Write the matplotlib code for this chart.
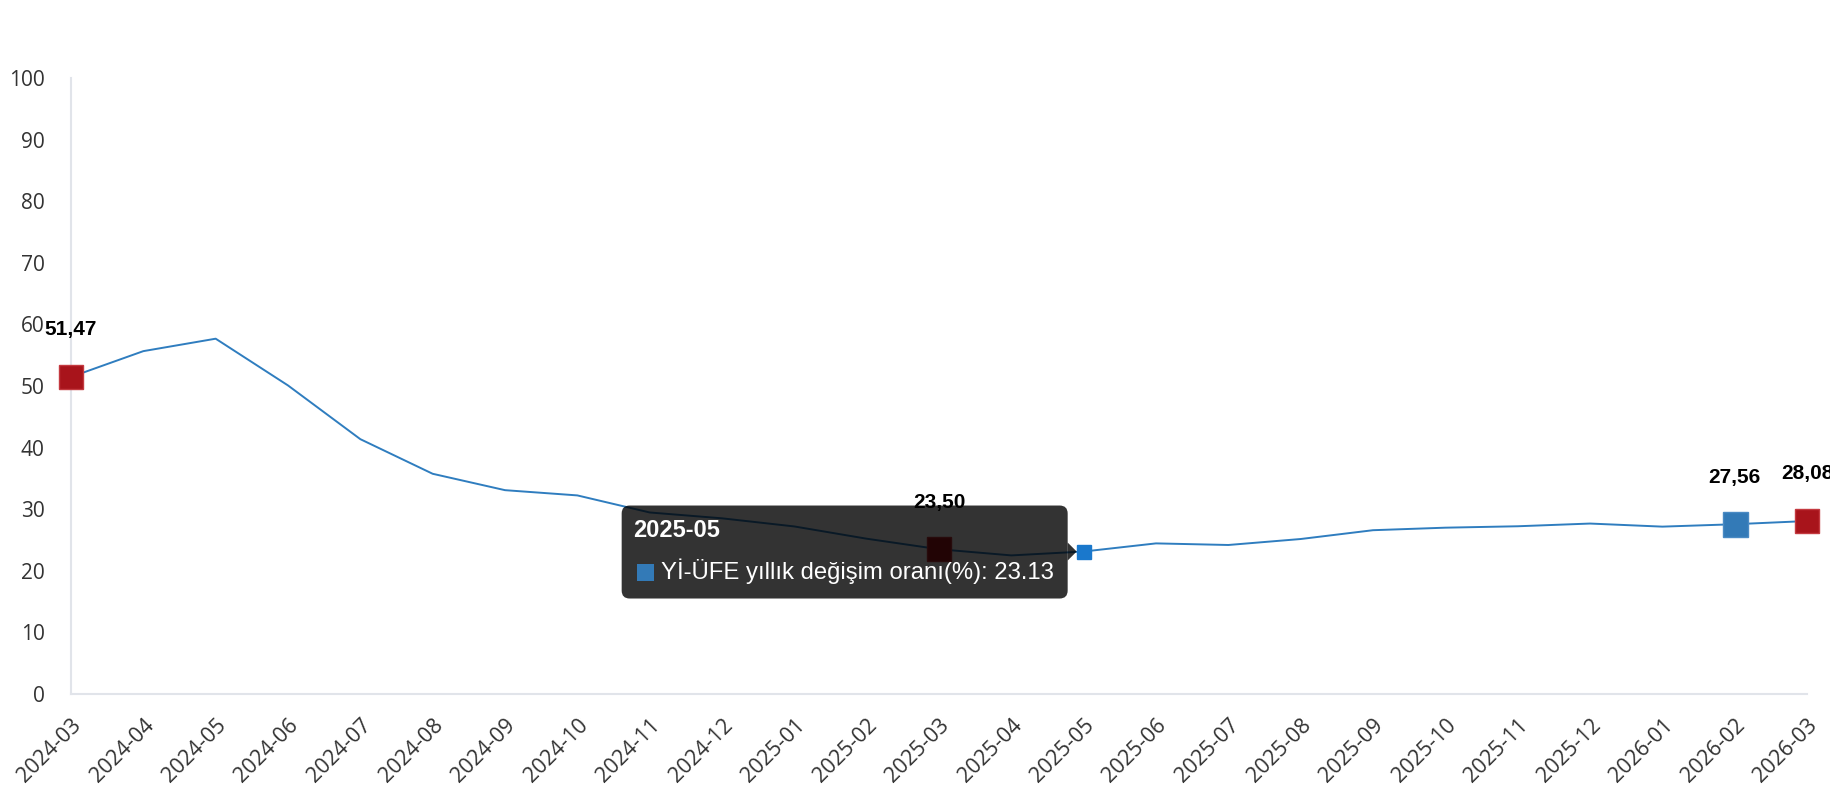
import matplotlib
matplotlib.use('Agg')
import matplotlib.pyplot as plt
import matplotlib.transforms as mtransforms
from matplotlib.patches import FancyBboxPatch, Polygon, Rectangle

# monthly Yİ-ÜFE annual change (%)
months = ['2024-03', '2024-04', '2024-05', '2024-06', '2024-07', '2024-08', '2024-09',
          '2024-10', '2024-11', '2024-12', '2025-01', '2025-02', '2025-03', '2025-04',
          '2025-05', '2025-06', '2025-07', '2025-08', '2025-09', '2025-10', '2025-11',
          '2025-12', '2026-01', '2026-02', '2026-03']
values = [51.47, 55.66, 57.68, 50.09, 41.37, 35.75, 33.09, 32.24, 29.47, 28.52, 27.20,
          25.21, 23.50, 22.50, 23.13, 24.45, 24.19, 25.16, 26.59, 27.00, 27.23, 27.67,
          27.17, 27.56, 28.08]
series_name = 'Yİ-ÜFE yıllık değişim oranı(%)'
red_idx = [0, 12, 24]     # highlighted red points
blue_idx = [23]           # highlighted blue point
hover_idx = 14            # point with tooltip
yticks = list(range(0, 101, 10))

LINE = '#2f7dbf'
RED = '#a8141b'
BLUE = '#337ab7'
AXIS = '#e1e4ea'

fig = plt.figure(figsize=(18.3, 8), dpi=100)
ax = fig.add_axes([71 / 1830, 106 / 800, 1736 / 1830, 616 / 800])

x = list(range(len(months)))
ax.plot(x, values, color=LINE, linewidth=1.4, zorder=2, clip_on=False)

ax.plot([x[i] for i in red_idx], [values[i] for i in red_idx], 's', ms=17,
        color=RED, mec='#c43a40', mew=1, zorder=3, clip_on=False)
ax.plot([x[i] for i in blue_idx], [values[i] for i in blue_idx], 's', ms=18,
        color=BLUE, mec='#4a8ac4', mew=1, zorder=3, clip_on=False)

# value labels (Turkish decimal comma)
for i in red_idx + blue_idx:
    ax.annotate(f"{values[i]:.2f}".replace('.', ','), (x[i], values[i]),
                xytext=(0, 34), textcoords='offset points', ha='center', va='center',
                fontsize=15, fontweight='bold', family='Liberation Sans',
                color='black', zorder=7, annotation_clip=False)

ax.set_xlim(0, len(months) - 1)
ax.set_ylim(0, 100)
ax.set_yticks(yticks)
ax.set_xticks(x)
ax.set_xticklabels(months, rotation=45, ha='right', va='top', rotation_mode='anchor')
for lab in ax.get_xticklabels():
    lab.set_family('Open Sans')
    lab.set_fontsize(15.5)
    lab.set_color('#333333')
for lab in ax.get_yticklabels():
    lab.set_family('Open Sans')
    lab.set_fontsize(15)
    lab.set_color('#333333')
ax.tick_params(axis='y', length=0, pad=19)
ax.tick_params(axis='x', length=0, pad=15)

for s in ['top', 'right']:
    ax.spines[s].set_visible(False)
for s in ['left', 'bottom']:
    ax.spines[s].set_color(AXIS)
    ax.spines[s].set_linewidth(1.5)

# tooltip, drawn in pixels around the hovered point
px, py = ax.transData.transform((x[hover_idx], values[hover_idx]))
tr = mtransforms.Affine2D().translate(px, py)
box = FancyBboxPatch((-462, -47), 446, 93, boxstyle='round,pad=0,rounding_size=8',
                     transform=tr, facecolor='black', edgecolor='none', alpha=0.8,
                     zorder=4, clip_on=False)
fig.patches.append(box)
arrow = Polygon([(-16, 9), (-7, 0), (-16, -9)], closed=True, transform=tr,
                facecolor='black', edgecolor='none', alpha=0.8, zorder=4)
fig.patches.append(arrow)
fig.text(-451, 21, months[hover_idx], transform=tr, ha='left', va='center',
         fontsize=17, fontweight='bold', family='Liberation Sans', color='white', zorder=8)
fig.patches.append(Rectangle((-447, -29), 17, 17, transform=tr, facecolor=BLUE,
                             edgecolor='none', zorder=8))
fig.text(-423, -20, f"{series_name}: {values[hover_idx]}", transform=tr, ha='left',
         va='center', fontsize=17.2, family='Liberation Sans', color='white', zorder=8)

ax.plot(x[hover_idx], values[hover_idx], 's', ms=9.4, color='#1a78cc', zorder=6,
        clip_on=False)

fig.savefig('out.png', dpi=100, facecolor='white')
